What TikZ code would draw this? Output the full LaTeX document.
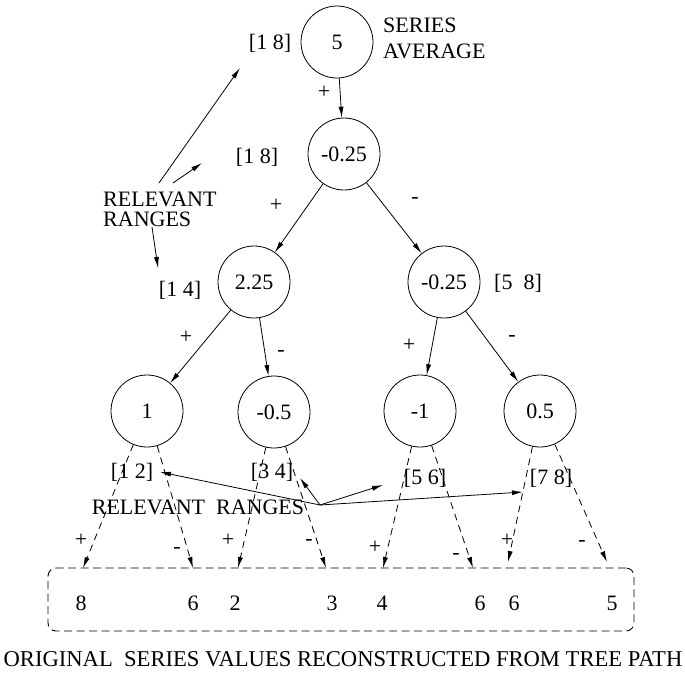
\documentclass[tikz,border=0pt]{standalone}
\usepackage{fontspec}
\setmainfont{Liberation Serif}
\usetikzlibrary{arrows.meta}
\begin{document}
\begin{tikzpicture}[x=1pt,y=-1pt,
  every node/.style={font=\fontsize{22}{23}\selectfont, inner sep=0pt},
  val/.style={draw, circle, minimum size=72pt, line width=0.8pt},
  arr/.style={-{Latex[length=11pt,width=5pt]}, line width=0.8pt},
  darr/.style={arr, dash pattern=on 7pt off 5pt},
  boxstyle/.style={draw, line width=0.9pt, dash pattern=on 8pt off 4.5pt, rounded corners=8pt, minimum width=586pt, minimum height=63pt},
]
\useasboundingbox (0,0) rectangle (685,675);

% tree nodes
\node[val] (n0) at (337,42) {5};
\node[val] (n1) at (344,154) {-0.25};
\node[val] (n2) at (254,282) {2.25};
\node[val] (n3) at (444,282) {-0.25};
\node[val] (n4) at (147,411) {1};
\node[val] (n5) at (274,412) {-0.5};
\node[val] (n6) at (420,411) {-1};
\node[val] (n7) at (540,411) {0.5};

% range labels
\node (r0) at (270,43) {[1 8]};
\node (r1) at (257,157) {[1 8]};
\node (r2) at (180,290) {[1 4]};
\node (r3) at (518,283) {[5\ \ 8]};
\node (r4) at (132,472) {[1 2]};
\node (r5) at (272,472) {[3 4]};
\node (r6) at (425,478) {[5 6]};
\node (r7) at (551,478) {[7 8]};

% texts
\node[anchor=west, align=left, font=\fontsize{22}{26}\selectfont] (series) at (383,38) {SERIES\\AVERAGE};
\node[anchor=west, align=left, font=\fontsize{22}{20}\selectfont] (relT) at (103,209) {RELEVANT\\RANGES};
\node (relB) at (198,507) {RELEVANT\ \ RANGES};
\node[font=\fontsize{22.6}{24}\selectfont] (caption) at (343,659) {ORIGINAL\ \ SERIES VALUES RECONSTRUCTED FROM TREE PATH};

% tree edges
\draw[arr] (n0) -- (n1);
\draw[arr] (n1) -- (n2);
\draw[arr] (n1) -- (n3);
\draw[arr] (n2) -- (n4);
\draw[arr] (n2) -- (n5);
\draw[arr] (n3) -- (n6);
\draw[arr] (n3) -- (n7);

% edge labels
\node (p0) at (324,92) {+};
\node (p1) at (276,205) {+};
\node (m1) at (415,200) {-};
\node (p2) at (186,337) {+};
\node (m2) at (281,353) {-};
\node (p3) at (409,345) {+};
\node (m3) at (512,338) {-};

% box of values
\node[boxstyle] (box) at (341,599.5) {};
\node (v1) at (81,603) {8};
\node (v2) at (193,603) {6};
\node (v3) at (235,603) {2};
\node (v4) at (332,603) {3};
\node (v5) at (382,603) {4};
\node (v6) at (480,603) {6};
\node (v7) at (514,603) {6};
\node (v8) at (612,603) {5};

% dashed leaf connectors
\coordinate (d1) at (83,568);
\coordinate (d2) at (193,568);
\coordinate (d3) at (238,568);
\coordinate (d4) at (326,568);
\coordinate (d5) at (383,568);
\coordinate (d6) at (473,568);
\coordinate (d7) at (508,562);
\coordinate (d8) at (607,562);
\draw[darr] (n4) -- (d1);
\draw[darr] (n4) -- (d2);
\draw[darr] (n5) -- (d3);
\draw[darr] (n5) -- (d4);
\draw[darr] (n6) -- (d5);
\draw[darr] (n6) -- (d6);
\draw[darr] (n7) -- (d7);
\draw[darr] (n7) -- (d8);

\node (bp1) at (81,540) {+};
\node (bm1) at (177,550) {-};
\node (bp2) at (228,540) {+};
\node (bm2) at (309,542) {-};
\node (bp3) at (375,547) {+};
\node (bm3) at (456,556) {-};
\node (bp4) at (507,540) {+};
\node (bm4) at (582,543) {-};

% relevant range pointers (top)
\coordinate (a1s) at (159,183);
\coordinate (a1e) at (240,68);
\coordinate (a2s) at (173,183);
\coordinate (a2e) at (202,163);
\coordinate (a3s) at (152,227);
\coordinate (a3e) at (158,268);
\draw[arr] (a1s) -- (a1e);
\draw[arr] (a2s) -- (a2e);
\draw[arr] (a3s) -- (a3e);

% relevant range pointers (bottom)
\coordinate (hub) at (320,505);
\coordinate (b1) at (160,472);
\coordinate (b2) at (300,478);
\coordinate (b3) at (383,485);
\coordinate (b4) at (523,492);
\draw[arr] (hub) -- (b1);
\draw[arr] (hub) -- (b2);
\draw[arr] (hub) -- (b3);
\draw[arr] (hub) -- (b4);
\end{tikzpicture}
\end{document}
